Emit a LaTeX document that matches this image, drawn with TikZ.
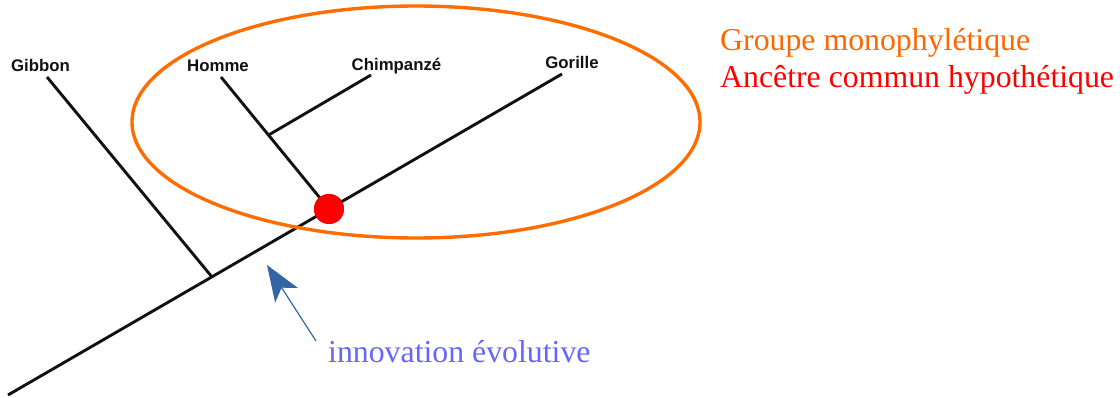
\documentclass[tikz,border=0pt]{standalone}
\usepackage{fontspec}
\setmainfont{Liberation Serif}
\newfontfamily\labelfont{Liberation Sans}
\usetikzlibrary{arrows.meta,calc}
\definecolor{grouporange}{RGB}{255,108,0}
\definecolor{grouptext}{RGB}{255,102,0}
\definecolor{ancred}{RGB}{255,0,0}
\definecolor{innovblue}{RGB}{102,102,255}
\definecolor{arrowblue}{RGB}{52,101,164}
\definecolor{branchink}{RGB}{17,17,17}
\tikzset{
  branch/.style={draw=branchink, line width=2.9pt},
  taxon/.style={font=\labelfont\bfseries\fontsize{16.8}{18}\selectfont, anchor=base, inner sep=0pt, text=branchink},
  legend/.style={font=\fontsize{31.8}{36}\selectfont, anchor=base west, inner sep=0pt},
}
\begin{document}
\begin{tikzpicture}[x=1pt,y=-1pt]
  \useasboundingbox (0,0) rectangle (1120,398);

  % tree tips and root
  \coordinate (root) at (8,395);
  \coordinate (gib) at (47,77);
  \coordinate (hom) at (221,77);
  \coordinate (chi) at (371,75);
  \coordinate (gor) at (562,74);
  \coordinate (gibjoin) at (212,277);

  % common ancestor of the monophyletic group
  \node[circle, fill=ancred, minimum size=30pt, inner sep=0pt] (anc) at (329,209) {};
  \coordinate (chijoin) at ($(hom)!0.44!(anc.center)$);

  % branches
  \draw[branch] (root) -- (gor);
  \draw[branch] (gib) -- (gibjoin);
  \draw[branch] (hom) -- (anc.center);
  \draw[branch] (chi) -- (chijoin);
  \node[circle, fill=ancred, minimum size=30pt, inner sep=0pt] at (anc) {};

  % monophyletic group
  \draw[grouporange, line width=3.4pt] (416,122) ellipse [x radius=284, y radius=116];

  % taxon names
  \node[taxon] (tgib) at (40.5,72) {Gibbon};
  \node[taxon] (thom) at (218,72) {Homme};
  \node[taxon] (tchi) at (396.5,71) {Chimpanzé};
  \node[taxon] (tgor) at (572,69) {Gorille};

  % legend
  \node[legend, text=grouptext] (lgroup) at (720,51) {Groupe monophylétique};
  \node[legend, text=ancred] (lanc) at (720,88) {Ancêtre commun hypothétique};

  % evolutionary innovation
  \node[legend, text=innovblue] (linnov) at (328,362) {innovation évolutive};
  \coordinate (arrtail) at (316,341);
  \coordinate (arrtip) at (267,265);
  \draw[arrowblue, line width=1.2pt, -{Stealth[length=36pt, width=27pt, inset=9pt]}] (arrtail) -- (arrtip);
\end{tikzpicture}
\end{document}
